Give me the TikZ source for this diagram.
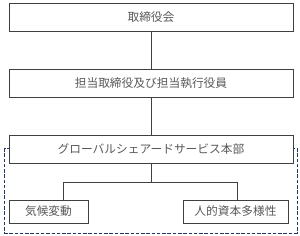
\documentclass[tikz,border=0pt]{standalone}
\usepackage{fontspec}
\setmainfont{Noto Sans CJK JP}
\definecolor{boxgray}{RGB}{64, 64, 64}
\definecolor{textgray}{RGB}{89, 89, 89}
\definecolor{dashblue}{RGB}{31, 56, 100}
\begin{document}
\begin{tikzpicture}[x=0.03cm, y=-0.03cm, line width=0.8pt,
        every node/.style={font=\fontsize{10pt}{12pt}\selectfont, text=textgray},
        orgbox/.style={draw=boxgray, fill=white, inner sep=0pt, minimum width=284*0.03cm, minimum height=28*0.03cm},
        subbox/.style={draw=boxgray, fill=white, inner sep=0pt, minimum height=23*0.03cm},
        link/.style={draw=boxgray}]

    \useasboundingbox (0,0) rectangle (300,236);

    % --- obszar przerywany ---
    \draw[dashblue, dashed, dash pattern=on 3pt off 1.5pt] (4.7,148) rectangle (297,233);

    % --- poziomy ---
    \node[orgbox] (board) at (151,17.5) {取締役会};
    \node[orgbox] (exec)  at (151,83)   {担当取締役及び担当執行役員};
    \node[orgbox] (gss)   at (151,149)  {グローバルシェアードサービス本部};

    % --- działy ---
    \node[subbox, minimum width=79*0.03cm]  (climate) at (48.5,211.5)  {気候変動};
    \node[subbox, minimum width=105*0.03cm] (human)   at (235.5,211.5) {人的資本多様性};

    % --- punkty rozgałęzień ---
    \coordinate (split) at (151,182);
    \coordinate (splitl) at (63,182);
    \coordinate (splitr) at (237,182);

    % --- połączenia ---
    \draw[link] (board) -- (exec);
    \draw[link] (exec) -- (gss);
    \draw[link] (gss) -- (split);
    \draw[link] (splitl) -- (splitr);
    \draw[link] (splitl) -- (splitl |- climate.north);
    \draw[link] (splitr) -- (splitr |- human.north);

\end{tikzpicture}
\end{document}
